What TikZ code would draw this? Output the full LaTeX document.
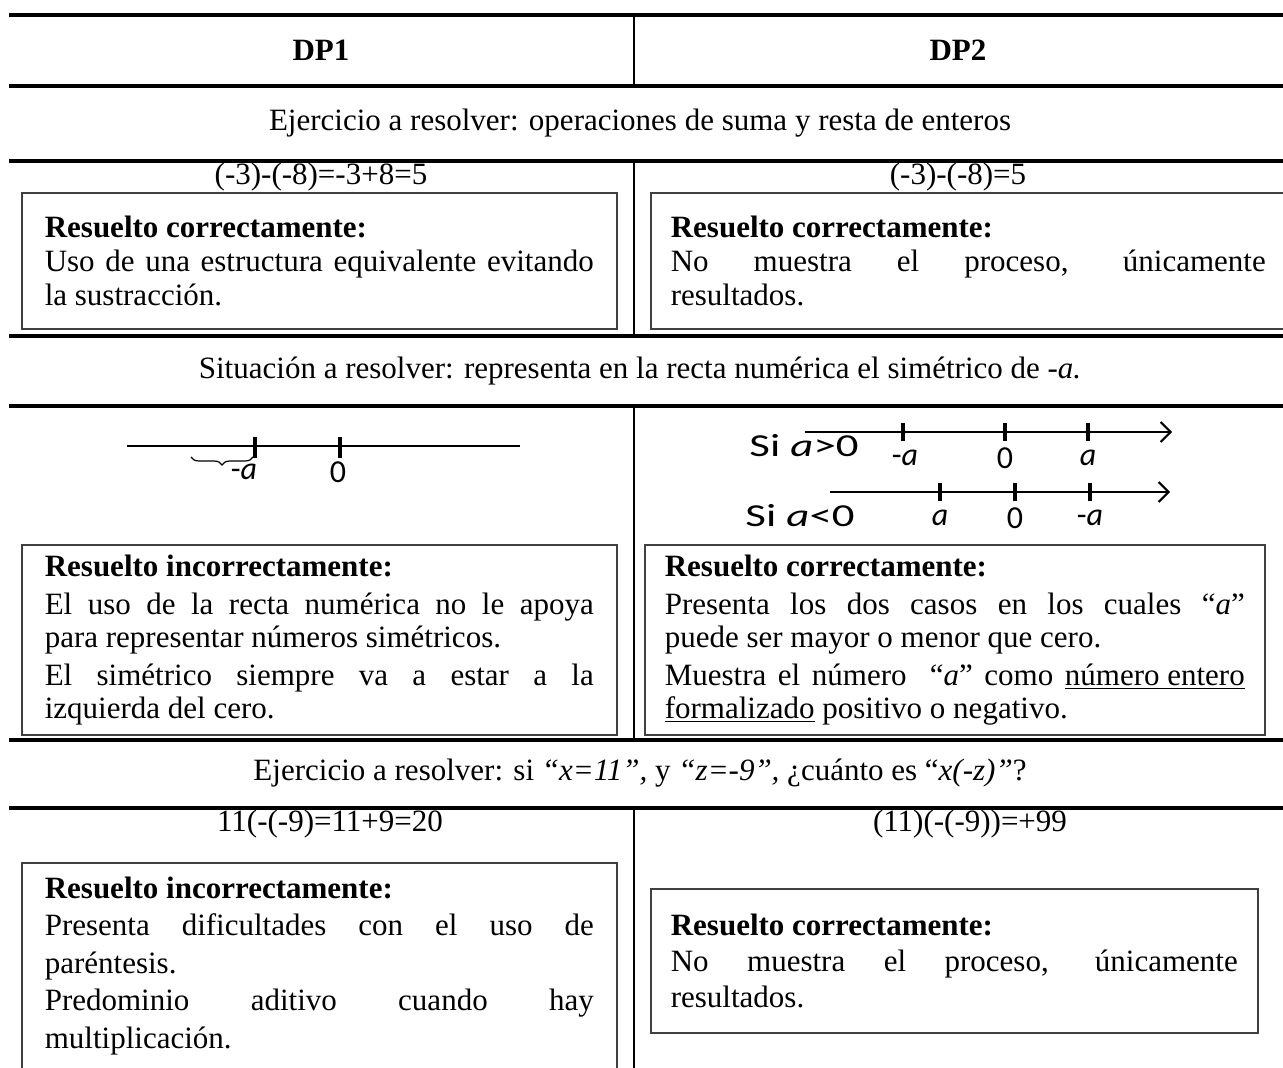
\documentclass[tikz,border=0pt]{standalone}
\usepackage{fontspec}
\usepackage{graphicx}
\setmainfont{Liberation Serif}
\newfontfamily\rectafont{Carlito}
\usetikzlibrary{arrows.meta, decorations.pathreplacing}

\newcommand{\ancho}[1]{\scalebox{1.4}[1]{#1}}

\tikzset{
  regla/.style={line width=1.6pt},
  columna/.style={line width=0.8pt},
  titulo/.style={inner sep=0pt, font=\fontsize{15.5}{17}\selectfont},
  caja/.style={draw=black!75, line width=0.8pt, anchor=north west, align=justify,
    inner xsep=11.5pt, inner ysep=0pt, text width=274.5pt,
    font=\fontsize{15.5}{17}\selectfont},
  recta/.style={line width=1pt},
  marca/.style={line width=1.6pt},
  etiqueta/.style={inner sep=0pt, font=\rectafont\fontsize{16}{17}\selectfont},
  flecha/.style={recta, -{Straight Barb[length=5pt, width=10pt]}},
}

\begin{document}
\begin{tikzpicture}[x=0.5pt, y=-0.5pt]
\useasboundingbox (0,0) rectangle (1283,1068);

% reglas de la tabla
\foreach \yy in {15, 86, 161, 336, 406, 740, 808}
  \draw[regla] (9,\yy) -- (1283,\yy);
\draw[columna] (634,15) -- (634,86);
\draw[columna] (634,161) -- (634,336);
\draw[columna] (634,406) -- (634,740);
\draw[columna] (634,808) -- (634,1068);

% encabezado
\node[titulo, font=\fontsize{15.5}{17}\selectfont\bfseries] (dp1) at (321,50) {DP1};
\node[titulo, font=\fontsize{15.5}{17}\selectfont\bfseries] (dp2) at (958,50) {DP2};

% primer ejercicio
\node[titulo] (ej1) at (640,123) {Ejercicio a resolver: operaciones de suma y resta de enteros};
\node[titulo] (op1a) at (321,177) {(-3)-(-8)=-3+8=5};
\node[titulo] (op1b) at (958,177) {(-3)-(-8)=5};
\node[caja, minimum height=68pt] (caja1a) at (21,192)
  {\textbf{Resuelto correctamente:}\par
   Uso de una estructura equivalente evitando\linebreak la sustracción.};
\node[caja, minimum height=68pt, inner xsep=10pt, text width=297.5pt] (caja1b) at (650,192)
  {\textbf{Resuelto correctamente:}\par
   No muestra el proceso, únicamente\linebreak resultados.};

% segunda situacion
\node[titulo] (sit2) at (640,371) {Situación a resolver: representa en la recta numérica el simétrico de \textit{-a.}};

\draw[recta] (127,446) -- (520,446);
\draw[marca] (255,437) -- (255,458);
\draw[marca] (340,437) -- (340,458);
\draw[decorate, decoration={brace, mirror, amplitude=4pt}, line width=0.6pt] (191,457) -- (253,457);
\node[etiqueta] (ma) at (244,472) {-\textit{a}};
\node[etiqueta] (cero) at (338,472) {0};

\node[etiqueta] (sipos) at (804,446) {\ancho{Si \textit{a}>0}};
\draw[flecha] (805,432) -- (1172,432);
\foreach \xx in {903, 1005, 1088}
  \draw[marca] (\xx,423) -- (\xx,441);
\node[etiqueta] (pa1) at (905,458) {-\textit{a}};
\node[etiqueta] (pb1) at (1005,458) {0};
\node[etiqueta] (pc1) at (1088,458) {\textit{a}};

\node[etiqueta] (sineg) at (800,516) {\ancho{Si \textit{a}<0}};
\draw[flecha] (830,492) -- (1170,492);
\foreach \xx in {940, 1015, 1090}
  \draw[marca] (\xx,483) -- (\xx,501);
\node[etiqueta] (pa2) at (940,518) {\textit{a}};
\node[etiqueta] (pb2) at (1015,518) {0};
\node[etiqueta] (pc2) at (1090,518) {-\textit{a}};

\node[caja, minimum height=95pt, font=\fontsize{15.5}{16.5}\selectfont] (caja2a) at (21,544)
  {\setlength{\parskip}{2.5pt}\textbf{Resuelto incorrectamente:}\par
   El uso de la recta numérica no le apoya\linebreak para representar números simétricos.\par
   El simétrico siempre va a estar a la\linebreak izquierda del cero.};
\node[caja, minimum height=95pt, inner xsep=10pt, text width=290pt, font=\fontsize{15.5}{16.5}\selectfont] (caja2b) at (644,544)
  {\setlength{\parskip}{2.5pt}\textbf{Resuelto correctamente:}\par
   Presenta los dos casos en los cuales “\textit{a}”\linebreak puede ser mayor o menor que cero.\par
   Muestra el número \ “\textit{a}” como \underline{número entero}\linebreak
   \underline{formalizado} positivo o negativo.};

% tercer ejercicio
\node[titulo] (ej3) at (640,773) {Ejercicio a resolver: si \textit{“x=11”,} y \textit{“z=-9”,} ¿cuánto es “\textit{x(-z)”}?};
\node[titulo] (op3a) at (330,824) {11(-(-9)=11+9=20};
\node[titulo] (op3b) at (970,824) {(11)(-(-9))=+99};
\node[caja, minimum height=103pt, font=\fontsize{15.5}{18.75}\selectfont] (caja3a) at (21,862)
  {\textbf{Resuelto incorrectamente:}\par
   Presenta dificultades con el uso de\linebreak paréntesis.\par
   Predominio aditivo cuando hay\linebreak multiplicación.};
\node[caja, minimum height=72pt, inner xsep=10pt, text width=283.5pt, font=\fontsize{15.5}{18}\selectfont] (caja3b) at (650,888)
  {\textbf{Resuelto correctamente:}\par
   No muestra el proceso, únicamente\linebreak resultados.};
\end{tikzpicture}
\end{document}
